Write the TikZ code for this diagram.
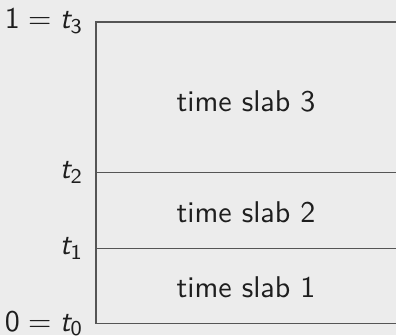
\documentclass[tikz,border=0pt]{standalone}
\definecolor{bgcol}{RGB}{236,236,236}
\definecolor{linecol}{RGB}{85,85,85}
\definecolor{txtcol}{RGB}{30,30,30}
% sans-serif time point: slanted t with a sans subscript
\newcommand{\tpt}[1]{\textit{t}_{\mathsf{#1}}}
\begin{document}
\begin{tikzpicture}[x=0.3333pt,y=-0.3333pt,
  slabline/.style={draw=linecol,line width=0.45pt},
  slablabel/.style={text=txtcol,font=\sffamily,inner sep=0pt},
  tlabel/.style={text=txtcol,font=\sffamily,anchor=east,inner sep=0pt}]
  % canvas
  \fill[bgcol] (0,0) rectangle (396,335);
  \useasboundingbox (0,0) rectangle (396,335);
  % corners of the time axis and slab boundaries
  \coordinate (t3l) at (96,22);
  \coordinate (t3r) at (396,22);
  \coordinate (t2l) at (96,172.5);
  \coordinate (t2r) at (396,172.5);
  \coordinate (t1l) at (96,248.5);
  \coordinate (t1r) at (396,248.5);
  \coordinate (t0l) at (96,323.5);
  \coordinate (t0r) at (396,323.5);
  % slab frame
  \draw[slabline] (t3r) -- (t3l) -- (t0l) -- (t0r);
  \draw[slabline] (t2l) -- (t2r);
  \draw[slabline] (t1l) -- (t1r);
  % time points
  \node[tlabel] (l3) at (84,21) {$\mathsf{1} = \tpt{3}$};
  \node[tlabel] (l2) at (84,172.5) {$\tpt{2}$};
  \node[tlabel] (l1) at (84,248.5) {$\tpt{1}$};
  \node[tlabel] (l0) at (84,323.5) {$\mathsf{0} = \tpt{0}$};
  % slab names
  \node[slablabel] (s3) at (246,101) {time slab 3};
  \node[slablabel] (s2) at (246,212) {time slab 2};
  \node[slablabel] (s1) at (246,287) {time slab 1};
\end{tikzpicture}
\end{document}
